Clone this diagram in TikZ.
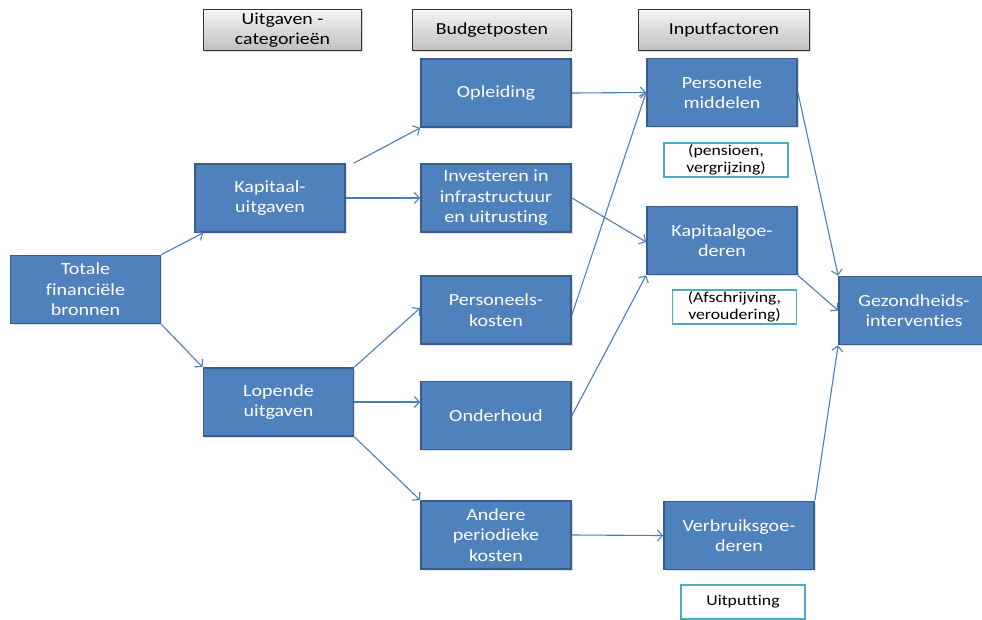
\documentclass[tikz,border=0pt]{standalone}
\usepackage{fontspec}
\setmainfont{Carlito}[FakeStretch=1.18,Ligatures={NoCommon}]
\usetikzlibrary{arrows.meta,shadows}
\definecolor{boxfill}{HTML}{4F81BD}
\definecolor{boxline}{HTML}{385D8A}
\definecolor{arrowc}{HTML}{4A7EBB}
\definecolor{notec}{HTML}{4BACC6}
\tikzset{
  blue box/.style={rectangle, fill=boxfill, draw=boxline, line width=1.8pt,
    minimum width=150pt, minimum height=68pt, inner sep=0pt, align=center,
    text=white, font=\fontsize{17pt}{20.5pt}\selectfont,
    drop shadow={shadow xshift=1.5pt, shadow yshift=-1.5pt, opacity=0.25}},
  head box/.style={rectangle, top color=white!96!black, bottom color=black!25,
    draw=black!80, line width=0.9pt, minimum height=41pt, inner sep=0pt,
    align=center, font=\fontsize{16.8pt}{19.5pt}\selectfont,
    drop shadow={shadow xshift=1.5pt, shadow yshift=-1.5pt, opacity=0.3}},
  note box/.style={rectangle, fill=white, draw=notec, line width=1.8pt,
    minimum width=124pt, minimum height=34pt, inner sep=0pt, align=center,
    font=\fontsize{15pt}{17pt}\selectfont},
  conn/.style={draw=arrowc, line width=1.1pt,
    -{Straight Barb[length=5pt,width=11pt,line width=1.1pt]}}
}
\begin{document}
\begin{tikzpicture}[x=1pt,y=-1pt]
\useasboundingbox (0,0) rectangle (982,619);
% headers
\node[head box, minimum width=158pt] (hcat) at (282.5,30) {Uitgaven -\\categorieën};
\node[head box, minimum width=159pt] (hbud) at (492,30) {Budgetposten};
\node[head box, minimum width=171pt] (hinp) at (724,30) {Inputfactoren};
% blue boxes
\node[blue box] (tot) at (85.5,289.5) {Totale\\financiële\\bronnen};
\node[blue box] (kap) at (270,198) {Kapitaal-\\uitgaven};
\node[blue box] (lop) at (278.5,402) {Lopende\\uitgaven};
\node[blue box] (opl) at (496,93) {Opleiding};
\node[blue box] (inv) at (496,198) {Investeren in\\infrastructuur\\en uitrusting};
\node[blue box] (pers) at (496,310) {Personeels-\\kosten};
\node[blue box] (ond) at (496,415.5) {Onderhoud};
\node[blue box] (and) at (496,535) {Andere\\periodieke\\kosten};
\node[blue box] (pm) at (722,92.5) {Personele\\middelen};
\node[blue box] (kg) at (722,240.5) {Kapitaalgoe-\\deren};
\node[blue box] (gez) at (914,310.5) {Gezondheids-\\interventies};
\node[blue box] (vg) at (739,535.5) {Verbruiksgoe-\\deren};
% notes
\node[note box] (npens) at (726,160) {(pensioen,\\vergrijzing)};
\node[note box] (nafs) at (734.5,307) {(Afschrijving,\\veroudering)};
\node[note box] (nuit) at (743,602) {Uitputting};
% connectors
\draw[conn] (tot.north east) -- ([xshift=9pt]kap.south west);
\draw[conn] (tot.south east) -- (lop.north west);
\draw[conn] ([xshift=8pt]kap.north east) -- (opl.south west);
\draw[conn] (kap.east) -- (inv.west);
\draw[conn] (lop.north east) -- ([yshift=2pt]pers.west);
\draw[conn] (lop.east) -- (lop.east -| ond.west);
\draw[conn] (lop.south east) -- (and.north west);
\draw[conn] (opl.east) -- (pm.west);
\draw[conn] (inv.east) -- ([yshift=-1.5pt]kg.west);
\draw[conn] ([yshift=-5pt]pers.east) -- (pm.west);
\draw[conn] (ond.east) -- (kg.south west);
\draw[conn] (and.east) -- (vg.west);
\draw[conn] (pm.east) -- (gez.north west);
\draw[conn] (kg.south east) -- (gez.west);
\draw[conn] (vg.north east) -- (gez.south west);
\end{tikzpicture}
\end{document}
